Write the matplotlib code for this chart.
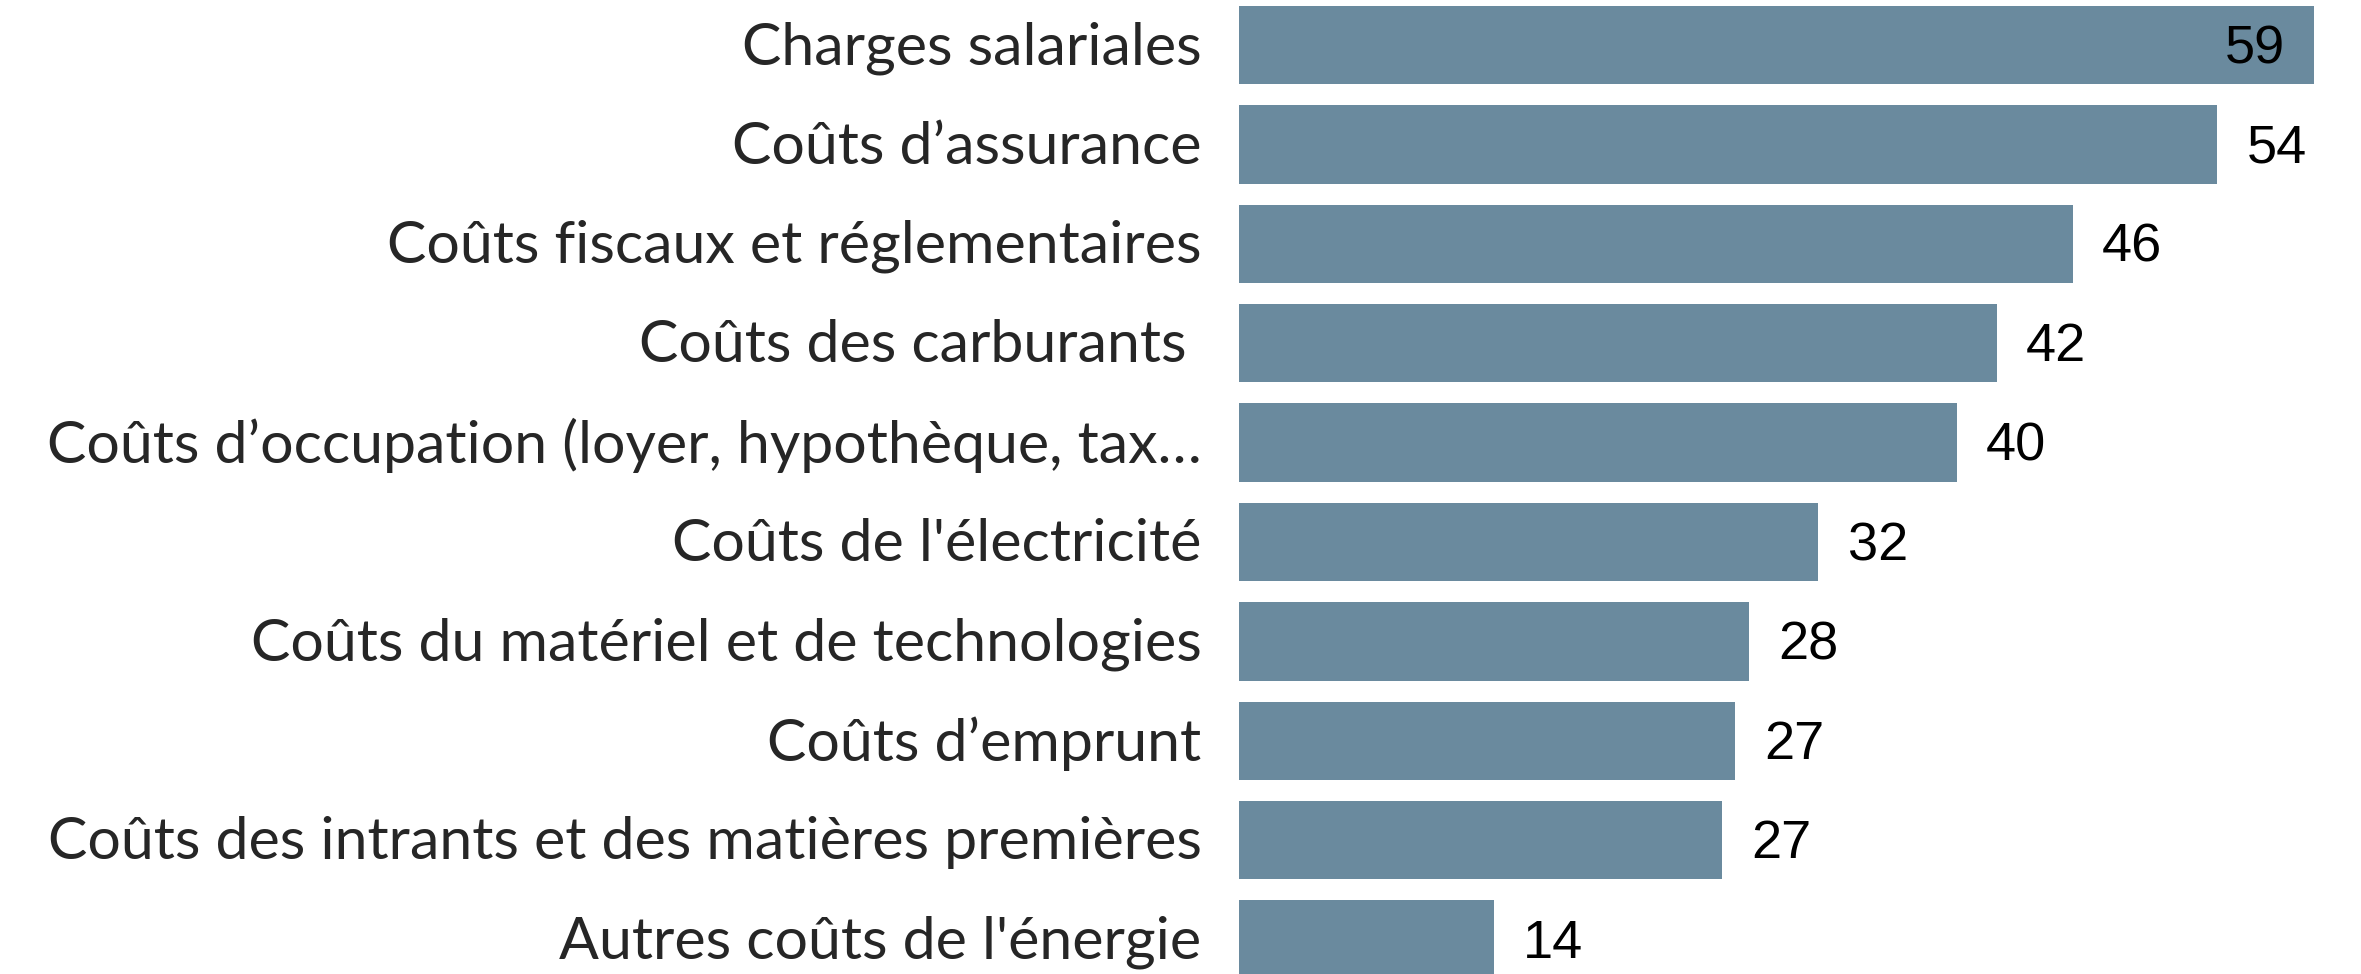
import numpy as np
import matplotlib.pyplot as plt

# categories top to bottom, bar lengths, printed labels
categories = [
    "Charges salariales",
    "Coûts d’assurance",
    "Coûts fiscaux et réglementaires",
    "Coûts des carburants ",
    "Coûts d’occupation (loyer, hypothèque, tax…",
    "Coûts de l'électricité",
    "Coûts du matériel et de technologies",
    "Coûts d’emprunt",
    "Coûts des intrants et des matières premières",
    "Autres coûts de l'énergie",
]
values = [59.0, 53.7, 45.75, 41.6, 39.4, 31.8, 28.0, 27.2, 26.5, 14.0]
value_labels = ["59", "54", "46", "42", "40", "32", "28", "27", "27", "14"]

bar_color = "#6a8a9e"

fig = plt.figure(figsize=(23.61, 9.74), dpi=100)
# axes start where the bars start
ax = fig.add_axes([1239 / 2361, 0, 1 - 1239 / 2361, 1])

y = np.arange(len(categories))
ax.barh(y, values, height=0.79, color=bar_color)

ax.set_xlim(0, 61.58)
ax.set_ylim(9.346, -0.453)
ax.axis("off")

# category labels on the left
for yi, cat in zip(y, categories):
    ax.annotate(cat, xy=(0, yi), xytext=(-27, -2), textcoords="offset points",
                ha="right", va="center", fontsize=42.5, family="Lato",
                color="#262626")

# value labels, first one inside the bar
for i, (yi, v, lab) in enumerate(zip(y, values, value_labels)):
    if i == 0:
        ax.annotate(lab, xy=(v, yi), xytext=(-21, -3), textcoords="offset points",
                    ha="right", va="center", fontsize=39, family="Liberation Sans",
                    color="black")
    else:
        ax.annotate(lab, xy=(v, yi), xytext=(21, -3), textcoords="offset points",
                    ha="left", va="center", fontsize=39, family="Liberation Sans",
                    color="black")

plt.savefig("out.png", dpi=100)
